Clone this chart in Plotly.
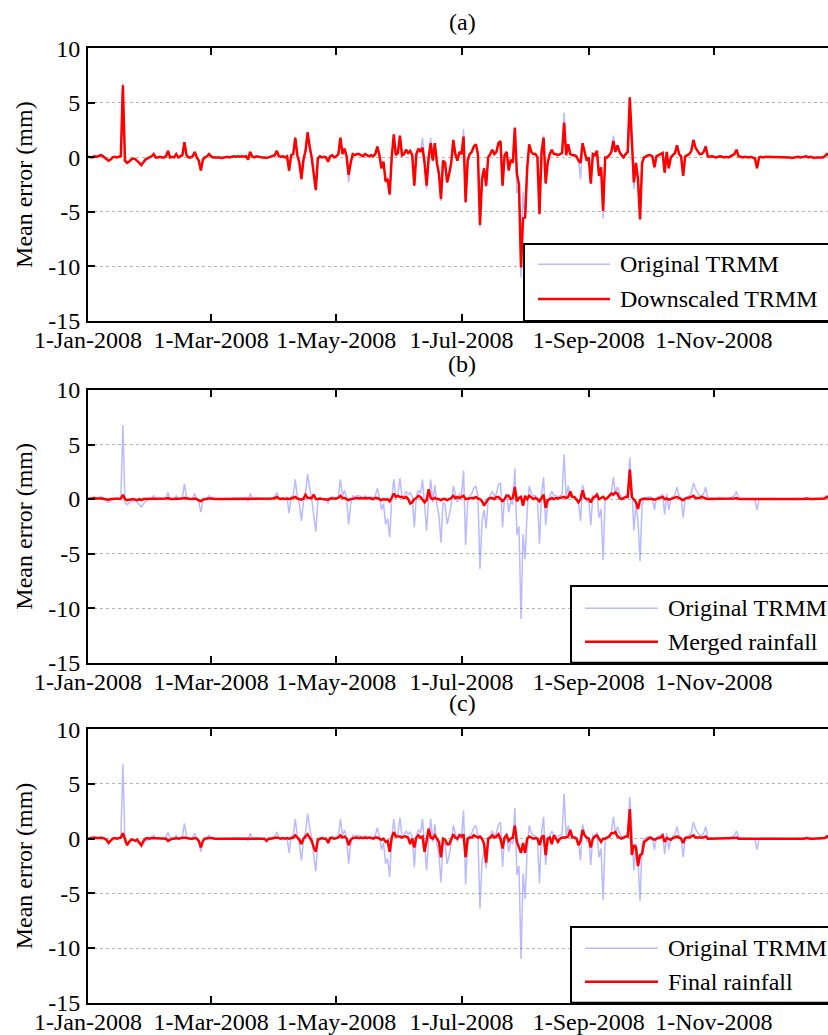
import pandas as pd
import plotly.graph_objects as go

# ---------------------------------------------------------------------------
# Daily mean error (mm) for 2008, one value per day (366 days)
# ---------------------------------------------------------------------------
dates = pd.date_range("2008-01-01", periods=366, freq="D")

original_trmm = [
    # Jan
    0.05, 0.05, 0.0, 0.1, 0.05, 0.1, 0.2, 0.15, 0.0, -0.1, -0.3, -0.2, 0.0, 0.05, 0.0, 0.05,
    0.1, 6.8, -0.3, -0.5, -0.4, -0.2, -0.1, -0.15, -0.3, -0.5, -0.7, -0.4, -0.2, -0.1, 0.0,
    # Feb
    0.1, 0.3, 0.0, 0.0, 0.05, 0.0, 0.0, 0.1, 0.6, 0.0, 0.05, 0.0, 0.3, 0.0, 0.1, 0.2, 1.4,
    0.2, 0.0, 0.0, 0.1, 0.5, 0.0, -0.3, -1.2, -0.2, 0.0, 0.1, 0.3,
    # Mar
    0.1, 0.0, 0.0, 0.05, 0.0, -0.05, 0.0, 0.0, 0.05, 0.0, 0.05, 0.1, 0.05, 0.1, 0.05, 0.1,
    0.05, 0.1, -0.2, 0.5, 0.1, 0.0, 0.1, 0.05, 0.05, 0.0, 0.0, -0.05, 0.0, 0.05, 0.1,
    # Apr
    0.2, 0.6, 0.1, 0.05, 0.1, 0.0, 0.1, -1.3, 0.2, 0.3, 1.8, 0.2, -0.5, -2.0, -0.2, 0.6,
    2.3, 1.0, 0.0, -1.5, -3.0, -0.1, 0.1, 0.0, 0.05, 0.0, -0.4, 0.1, 0.2, 0.0,
    # May
    0.1, 0.3, 1.8, 0.3, 0.8, 0.1, -2.3, -0.5, 0.3, 0.2, 0.3, 0.3, 0.2, 0.1, 0.3, 0.2, 0.1,
    0.2, 0.1, 0.3, 1.0, 0.2, -1.0, -0.4, -2.3, -1.8, -3.5, 0.0, 1.8, 0.2, 0.4,
    # Jun
    1.9, 0.2, 0.3, 0.7, 0.4, 0.6, 0.2, -2.6, 0.3, 0.8, 0.5, 1.8, -0.5, -2.9, 0.0, 1.8, -0.3,
    1.3, -0.5, -1.5, -4.0, -0.3, -0.5, -2.3, -1.5, -0.5, 1.2, 0.3, -0.3, 0.5,
    # Jul
    0.3, 2.6, -4.2, -0.3, 0.3, 0.5, 1.0, 1.2, 0.3, -6.4, -2.0, -1.0, -2.7, 0.0, 0.3, 0.7,
    0.3, 0.5, 1.3, 1.5, -2.6, 0.2, 0.5, -1.2, -0.2, -0.5, 2.8, -3.3, -2.5, -11.0, -3.2,
    # Aug
    -5.5, -1.0, 1.2, 0.5, 0.3, 0.3, 0.0, -4.1, 0.5, 2.0, -2.4, -0.5, 0.3, 0.7, 0.3, 0.3,
    0.2, 0.3, 0.4, 4.1, 0.2, 1.2, 0.3, 0.2, 0.2, 0.1, -0.3, -2.0, 1.3, 0.5, -0.3,
    # Sep
    0.0, -2.4, 0.3, 0.2, 0.6, -1.7, -0.9, -5.6, 0.0, 0.0, 0.2, 0.5, 2.0, 0.5, 1.1, 0.5, 0.2,
    0.0, 0.3, 0.5, 3.8, 1.0, -2.9, -0.5, -2.0, -5.7, -0.5, 0.0, 0.1, 0.2,
    # Oct
    0.2, 0.1, -1.0, 0.1, 0.2, 0.3, 0.4, -1.4, 0.5, -1.0, 0.0, 0.2, 0.4, 1.1, 0.3, 0.1, -1.7,
    0.1, 0.2, 0.3, 0.6, 1.5, 0.9, 0.6, 0.3, 0.3, 0.5, 1.1, 0.1, 0.05, 0.1,
    # Nov
    0.05, 0.0, 0.05, 0.1, 0.05, 0.0, 0.05, 0.0, 0.1, 0.2, 0.3, 0.7, 0.1, 0.05, 0.0, 0.05,
    0.0, 0.0, 0.05, 0.0, -0.1, -1.0, 0.0, 0.05, 0.0, 0.05, 0.05, 0.0, 0.05, 0.0,
    # Dec
    0.05, 0.0, 0.0, 0.05, 0.0, 0.0, 0.05, 0.0, -0.05, 0.0, 0.0, 0.05, 0.0, 0.0, 0.05, 0.1,
    0.0, 0.05, 0.0, -0.05, 0.0, 0.0, 0.05, 0.0, 0.1, 0.3, 0.2, 0.1, 0.1, 0.05, 0.1,
]

downscaled_trmm = [
    # Jan
    0.05, 0.05, 0.0, 0.1, 0.05, 0.1, 0.2, 0.15, 0.0, -0.1, -0.3, -0.2, 0.0, 0.05, 0.0, 0.05,
    0.1, 6.6, -0.3, -0.5, -0.4, -0.2, -0.1, -0.15, -0.3, -0.5, -0.7, -0.4, -0.2, -0.1, 0.0,
    # Feb
    0.1, 0.3, 0.0, 0.0, 0.05, 0.0, 0.0, 0.1, 0.6, 0.0, 0.05, 0.0, 0.3, 0.0, 0.1, 0.2, 1.4,
    0.2, 0.0, 0.0, 0.1, 0.5, 0.0, -0.3, -1.2, -0.2, 0.0, 0.1, 0.3,
    # Mar
    0.1, 0.0, 0.0, 0.05, 0.0, -0.05, 0.0, 0.0, 0.05, 0.0, 0.05, 0.1, 0.05, 0.1, 0.05, 0.1,
    0.05, 0.1, -0.2, 0.5, 0.1, 0.0, 0.1, 0.05, 0.05, 0.0, 0.0, -0.05, 0.0, 0.05, 0.1,
    # Apr
    0.2, 0.6, 0.1, 0.05, 0.1, 0.0, 0.1, -1.2, 0.2, 0.3, 1.8, 0.2, -0.5, -2.0, -0.2, 0.6,
    2.3, 1.0, 0.0, -1.5, -3.0, -0.1, 0.1, 0.0, 0.05, 0.0, -0.4, 0.1, 0.2, 0.0,
    # May
    0.1, 0.3, 1.8, 0.3, 0.8, 0.1, -1.6, -0.5, 0.3, 0.2, 0.3, 0.3, 0.2, 0.1, 0.3, 0.2, 0.1,
    0.2, 0.1, 0.3, 1.0, 0.2, -1.0, -0.4, -2.2, -2.0, -3.4, 0.0, 2.1, 0.2, 0.4,
    # Jun
    2.0, 0.2, 0.3, 0.7, 0.4, 0.6, 0.2, -2.6, 0.3, 0.8, 0.5, 0.9, -0.5, -2.6, 0.0, 1.3, -0.3,
    1.3, -0.5, -1.5, -3.8, -0.3, -0.5, -2.3, -1.5, -0.5, 1.6, 0.3, -0.3, 0.5,
    # Jul
    0.3, 1.9, -4.1, -0.3, 0.3, 0.5, 1.0, 1.2, 0.3, -6.2, -2.0, -1.0, -2.6, 0.0, 0.3, 0.7,
    0.3, 0.5, 1.3, 1.5, -2.6, 0.2, 0.5, -1.2, -0.2, -0.5, 2.7, -1.5, -2.5, -10.1, -5.6,
    # Aug
    -5.5, -1.0, 1.2, 0.5, 0.3, 0.3, 0.0, -5.2, 0.5, 1.8, -2.4, -0.5, 0.3, 0.7, 0.3, 0.3,
    0.2, 0.3, 0.4, 3.2, 0.2, 1.2, 0.3, 0.2, 0.2, 0.1, -0.3, -0.5, 1.3, 0.5, -0.3,
    # Sep
    0.0, -2.4, 0.3, 0.2, 0.6, -1.7, -0.9, -4.9, 0.0, 0.0, 0.2, 0.5, 1.5, 0.5, 1.1, 0.5, 0.2,
    0.0, 0.3, 0.5, 5.5, 1.0, -2.3, -0.5, -2.0, -5.7, -0.5, 0.0, 0.1, 0.2,
    # Oct
    0.2, 0.1, -0.9, 0.1, 0.2, 0.3, 0.4, -1.4, 0.5, -1.0, 0.0, 0.2, 0.4, 1.1, 0.3, 0.1, -1.7,
    0.1, 0.2, 0.3, 0.6, 1.6, 0.9, 0.6, 0.3, 0.3, 0.5, 1.0, 0.1, 0.05, 0.1,
    # Nov
    0.05, 0.0, 0.05, 0.1, 0.05, 0.0, 0.05, 0.0, 0.1, 0.2, 0.3, 0.7, 0.1, 0.05, 0.0, 0.05,
    0.0, 0.0, 0.05, 0.0, -0.1, -1.0, 0.0, 0.05, 0.0, 0.05, 0.05, 0.0, 0.05, 0.0,
    # Dec
    0.05, 0.0, 0.0, 0.05, 0.0, 0.0, 0.05, 0.0, -0.05, 0.0, 0.0, 0.05, 0.0, 0.0, 0.05, 0.1,
    0.0, 0.05, 0.0, -0.05, 0.0, 0.0, 0.05, 0.0, 0.1, 0.3, 0.2, 0.1, 0.1, 0.05, 0.1,
]

merged_rainfall = [
    # Jan
    0.0, 0.05, 0.05, 0.1, 0.05, 0.05, 0.1, 0.05, 0.0, -0.05, -0.05, 0.0, 0.0, 0.05, 0.0, 0.05,
    0.05, 0.4, 0.0, -0.1, -0.05, -0.05, 0.0, -0.05, -0.1, 0.0, -0.1, 0.0, 0.0, 0.05, 0.0,
    # Feb
    0.05, 0.05, 0.0, 0.0, 0.0, 0.0, 0.0, 0.05, 0.1, 0.0, 0.0, 0.0, 0.05, 0.0, 0.05, 0.05, 0.1,
    0.05, 0.0, 0.0, 0.0, 0.05, 0.0, -0.1, -0.2, -0.05, 0.0, 0.05, 0.05,
    # Mar
    0.05, 0.0, 0.0, 0.0, 0.0, 0.0, 0.0, 0.0, 0.05, 0.0, 0.0, 0.05, 0.0, 0.05, 0.0, 0.05,
    0.0, 0.05, 0.0, 0.05, 0.05, 0.0, 0.05, 0.0, 0.0, 0.0, 0.0, 0.0, 0.0, 0.0, 0.05,
    # Apr
    0.1, 0.2, 0.05, 0.0, 0.05, 0.0, 0.05, 0.0, 0.05, 0.1, 0.2, 0.05, 0.0, -0.05, 0.05, 0.4,
    0.1, 0.1, 0.1, 0.4, 0.0, 0.0, 0.05, 0.0, 0.0, 0.0, -0.05, 0.05, 0.05, 0.0,
    # May
    0.05, 0.1, 0.3, 0.1, 0.1, 0.0, -0.1, 0.0, 0.05, 0.1, 0.1, 0.05, 0.1, 0.05, 0.1, 0.05,
    0.1, 0.05, 0.0, 0.1, 0.1, 0.0, -0.1, 0.0, -0.05, 0.0, -0.2, 0.1, 0.5, 0.2, 0.3,
    # Jun
    0.2, 0.2, 0.1, 0.2, 0.0, -0.4, -0.3, 0.0, 0.1, 0.3, 0.2, 0.0, -0.3, -0.1, 0.9, 0.1, 0.0,
    0.1, 0.0, 0.0, -0.1, 0.0, 0.0, -0.1, 0.0, 0.1, 0.3, 0.1, 0.2, 0.1,
    # Jul
    0.2, 0.3, 0.0, 0.05, 0.1, 0.1, 0.1, 0.2, 0.05, 0.0, -0.2, -0.6, -0.3, 0.0, 0.1, 0.1, 0.0,
    0.2, 0.2, 0.0, -0.2, 0.0, 0.3, 0.3, 0.0, 0.1, 1.1, -0.2, 0.1, 0.2, -0.6,
    # Aug
    0.3, 0.0, 0.3, 0.1, 0.0, 0.1, 0.0, -0.2, 0.1, 0.4, -0.8, -0.1, 0.0, 0.1, 0.0, 0.1, 0.05,
    0.1, 0.2, 0.2, 0.1, 0.2, 0.7, 0.2, 0.2, 0.0, -0.3, 0.0, 0.8, 0.1, 0.0,
    # Sep
    0.0, -0.3, 0.1, 0.2, 0.4, 0.0, 0.1, 0.2, 0.0, 0.1, 0.3, 0.5, 0.4, 0.6, 0.5, 0.1, 0.0,
    0.1, 0.2, 0.2, 2.7, 0.2, 0.0, -0.3, -0.9, -0.1, 0.0, 0.05, 0.0, 0.0,
    # Oct
    0.05, 0.0, -0.05, 0.0, 0.05, 0.1, 0.2, 0.0, 0.05, -0.05, 0.0, 0.05, 0.1, 0.2, 0.1, 0.0,
    -0.1, 0.05, 0.1, 0.1, 0.2, 0.3, 0.1, 0.1, 0.1, 0.2, 0.1, 0.05, 0.0, 0.0, 0.0,
    # Nov
    0.0, 0.0, 0.05, 0.0, 0.0, 0.0, 0.05, 0.0, 0.0, 0.0, 0.05, 0.1, 0.0, 0.0, 0.0, 0.0, 0.0,
    0.0, 0.0, 0.0, 0.0, -0.05, 0.0, 0.0, 0.0, 0.0, 0.0, 0.0, 0.0, 0.0,
    # Dec
    0.0, 0.0, 0.0, 0.0, 0.0, 0.0, 0.0, 0.0, 0.0, 0.0, 0.0, 0.0, 0.0, 0.0, 0.0, 0.05, 0.0,
    0.0, 0.0, 0.0, 0.0, 0.0, 0.0, 0.0, 0.05, 0.2, 0.1, 0.05, 0.05, 0.0, 0.05,
]

final_rainfall = [
    # Jan
    0.0, 0.05, 0.05, 0.1, 0.05, 0.05, 0.1, 0.05, 0.0, -0.1, -0.4, -0.2, 0.0, 0.05, 0.0, 0.05,
    0.1, 0.5, 0.0, -0.6, -0.3, -0.1, -0.1, -0.2, -0.1, -0.4, -0.6, -0.2, 0.0, 0.05, 0.0,
    # Feb
    0.05, 0.05, 0.0, 0.0, 0.0, 0.0, 0.0, 0.0, -0.2, -0.1, 0.0, 0.0, 0.05, 0.0, 0.05, 0.05,
    0.1, 0.05, 0.0, 0.0, 0.0, 0.05, 0.0, -0.2, -0.8, -0.2, 0.0, 0.05, 0.05,
    # Mar
    0.05, 0.0, 0.0, 0.0, 0.0, 0.0, 0.0, 0.0, 0.05, 0.0, 0.0, 0.05, 0.0, 0.05, 0.0, 0.05,
    0.0, 0.05, 0.0, 0.05, 0.05, 0.0, 0.05, 0.0, 0.0, 0.0, 0.0, -0.2, 0.0, 0.0, 0.05,
    # Apr
    0.05, 0.1, 0.05, 0.0, 0.05, 0.0, 0.05, 0.0, 0.05, 0.1, 0.3, 0.05, -0.1, -0.5, 0.0, 0.2,
    0.4, 0.1, -0.2, -0.8, -1.2, -0.1, 0.0, 0.05, 0.0, 0.0, -0.4, 0.05, 0.05, 0.0,
    # May
    0.05, 0.1, 0.3, 0.1, 0.2, 0.0, -0.6, -0.1, 0.05, 0.1, 0.1, 0.05, 0.1, 0.05, 0.1, 0.05,
    0.1, 0.05, 0.0, 0.1, 0.1, 0.0, -0.1, 0.0, -0.3, -0.2, -1.2, 0.1, 0.6, 0.2, 0.2,
    # Jun
    0.2, 0.1, 0.2, 0.2, 0.1, -0.5, 0.0, -0.8, 0.1, 0.3, 0.1, 0.2, -1.2, -0.2, 0.9, 0.1, 0.0,
    0.3, 0.0, -0.3, -1.7, 0.0, -0.1, -0.5, -0.5, 0.0, 0.4, 0.1, 0.0, 0.3,
    # Jul
    0.2, 0.4, -1.7, 0.0, 0.1, 0.1, 0.3, 0.2, 0.1, 0.2, 0.0, -0.5, -2.2, 0.0, 0.1, 0.3, 0.1,
    0.2, 0.4, 0.0, -0.9, 0.1, 0.3, -0.2, 0.0, 0.1, 1.2, -0.3, -0.8, -1.3, -0.4,
    # Aug
    -1.3, 0.0, 0.2, 0.1, 0.0, 0.05, 0.0, -0.6, 0.1, 0.3, -1.5, 0.0, 0.1, -0.5, 0.3, 0.0,
    -0.3, 0.0, 0.1, 0.1, 0.1, 0.2, 0.8, 0.1, 0.1, 0.0, -0.6, -0.2, 0.8, 0.3, 0.1,
    # Sep
    0.0, -0.8, 0.0, 0.2, 0.3, 0.0, -0.3, 0.0, 0.0, 0.1, 0.2, 0.5, 0.5, 0.6, 0.2, 0.1, 0.0,
    0.1, 0.2, 0.2, 2.7, -1.5, -0.6, -0.8, -2.5, -1.5, -1.4, -0.3, -0.1, 0.0,
    # Oct
    0.1, 0.0, -0.1, 0.0, 0.05, 0.1, 0.3, -0.3, 0.05, -0.05, -0.1, 0.05, 0.1, 0.2, 0.1, 0.0,
    -0.4, 0.05, 0.1, 0.1, 0.2, 0.3, 0.1, 0.1, 0.1, 0.1, 0.1, 0.2, 0.0, 0.0, 0.0,
    # Nov
    0.0, 0.0, 0.05, 0.0, 0.0, 0.0, 0.05, 0.0, 0.0, 0.0, 0.05, 0.1, 0.0, 0.0, 0.0, 0.0, 0.0,
    0.0, 0.0, 0.0, 0.0, -0.05, 0.0, 0.0, 0.0, 0.0, 0.0, 0.0, 0.0, 0.0,
    # Dec
    0.0, 0.0, 0.0, 0.0, 0.0, 0.0, 0.0, 0.0, 0.0, 0.0, 0.0, 0.0, 0.0, 0.0, 0.0, 0.05, 0.0,
    0.0, 0.0, 0.0, 0.0, 0.0, 0.0, 0.0, 0.05, 0.2, 0.1, 0.05, 0.05, 0.0, 0.05,
]

panel_titles = ["(a)", "(b)", "(c)"]
comparison_names = ["Downscaled TRMM", "Merged rainfall", "Final rainfall"]
comparison_series = [downscaled_trmm, merged_rainfall, final_rainfall]
reference_name = "Original TRMM"

x_tick_dates = ["2008-01-01", "2008-03-01", "2008-05-01", "2008-07-01", "2008-09-01", "2008-11-01"]
x_tick_labels = ["1-Jan-2008", "1-Mar-2008", "1-May-2008", "1-Jul-2008", "1-Sep-2008", "1-Nov-2008"]
y_ticks = [-15, -10, -5, 0, 5, 10]
y_tick_labels = ["-15", "-10", "-5", "0", "5", "10"]
y_title = "Mean error (mm)"

# ---------------------------------------------------------------------------
# Layout geometry (pixels in a 828 x 1035 canvas)
# ---------------------------------------------------------------------------
W, H = 828, 1035
FONT = "Liberation Serif"
BLUE = "rgba(90, 90, 255, 0.42)"
RED = "#ff0000"

plot_left = 88
panel_px = [(48.3, 321.0), (390.0, 662.7), (729.3, 1002.7)]   # (top, bottom)
title_px = [22, 364, 703]
legend_px = [  # box left, box top, sample x0, sample x1, text x, row1 y, row2 y
    (524, 244, 538, 610, 618, 264.3, 299.0),
    (571, 586, 585, 658, 666, 608.3, 641.7),
    (571, 927, 585, 658, 666, 948.3, 981.7),
]


def px_x(v):
    return v / W


def px_y(v):
    return 1 - v / H


fig = go.Figure()
layout = dict(
    width=W, height=H,
    margin=dict(l=0, r=0, t=0, b=0, autoexpand=False),
    paper_bgcolor="white", plot_bgcolor="white",
    showlegend=False,
    font=dict(family=FONT, size=24, color="black"),
)

shapes, annotations = [], []
x_range = ["2008-01-01", "2008-12-26 14:00"]

for i in range(3):
    sfx = "" if i == 0 else str(i + 1)
    top, bottom = panel_px[i]
    ax_x, ax_y = "x" + sfx, "y" + sfx

    fig.add_trace(go.Scatter(x=dates, y=original_trmm, mode="lines",
                             line=dict(color=BLUE, width=1.5),
                             xaxis=ax_x, yaxis=ax_y, name=reference_name))
    fig.add_trace(go.Scatter(x=dates, y=comparison_series[i], mode="lines",
                             line=dict(color=RED, width=2.5),
                             xaxis=ax_x, yaxis=ax_y, name=comparison_names[i]))

    layout["xaxis" + sfx] = dict(
        domain=[px_x(plot_left), 1.0], anchor=ax_y, type="date", range=x_range,
        tickmode="array", tickvals=x_tick_dates, ticktext=x_tick_labels, tickangle=0,
        ticks="inside", ticklen=7, tickwidth=1.5, tickcolor="black",
        showline=True, linecolor="black", linewidth=2, mirror="ticks",
        showgrid=False, zeroline=False, automargin=False, ticklabelstandoff=-4,
        tickfont=dict(family=FONT, size=24, color="black"),
    )
    layout["yaxis" + sfx] = dict(
        domain=[px_y(bottom), px_y(top)], anchor=ax_x, range=[-15, 10],
        tickmode="array", tickvals=y_ticks, ticktext=y_tick_labels,
        ticks="inside", ticklen=7, tickwidth=1.5, tickcolor="black",
        showline=True, linecolor="black", linewidth=2, mirror=False,
        showgrid=True, gridcolor="#b4b4b4", gridwidth=1, griddash="dot",
        zeroline=False, ticklabelstandoff=1, automargin=False,
        tickfont=dict(family=FONT, size=24, color="black"),
        title=dict(text=y_title, standoff=9, font=dict(family=FONT, size=24, color="black")),
    )

    annotations.append(dict(
        text=panel_titles[i], xref="paper", yref="paper",
        x=px_x(462), y=px_y(title_px[i]),
        xanchor="center", yanchor="middle", showarrow=False,
        font=dict(family=FONT, size=24, color="black"),
    ))

    # legend box
    bx, by, sx0, sx1, tx, r1, r2 = legend_px[i]
    shapes.append(dict(type="rect", xref="paper", yref="paper", layer="above",
                       x0=px_x(bx), x1=1.05, y0=px_y(bottom), y1=px_y(by),
                       line=dict(color="black", width=2), fillcolor="white"))
    for (row_y, color, width, label) in [
        (r1, BLUE, 1.5, reference_name),
        (r2, RED, 2.5, comparison_names[i]),
    ]:
        shapes.append(dict(type="line", xref="paper", yref="paper", layer="above",
                           x0=px_x(sx0), x1=px_x(sx1), y0=px_y(row_y), y1=px_y(row_y),
                           line=dict(color=color, width=width)))
        annotations.append(dict(
            text=label, xref="paper", yref="paper",
            x=px_x(tx), y=px_y(row_y), xanchor="left", yanchor="middle",
            showarrow=False, font=dict(family=FONT, size=24, color="black"),
        ))

layout["shapes"] = shapes
layout["annotations"] = annotations
fig.update_layout(**layout)

fig.write_html("out.html")
